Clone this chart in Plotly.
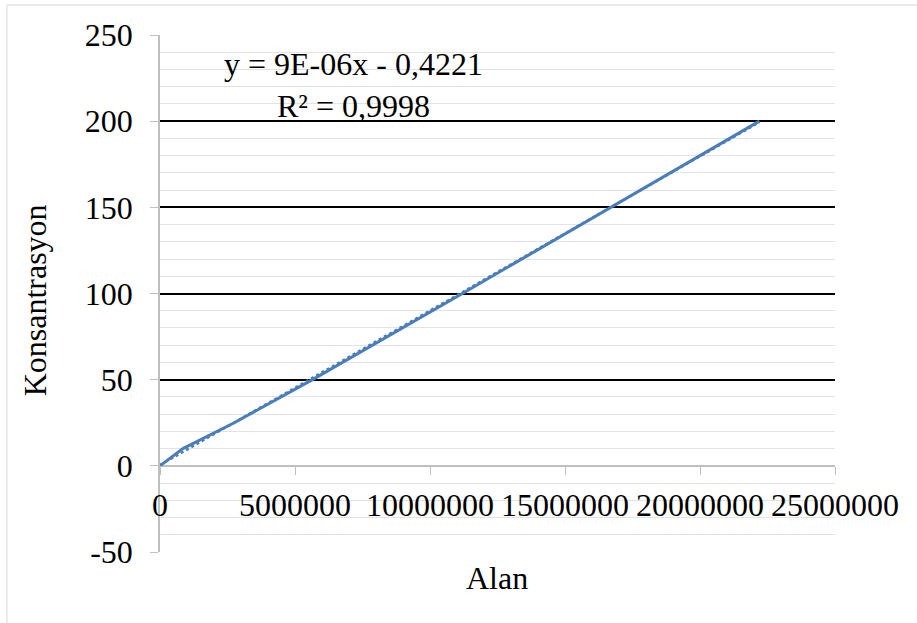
import numpy as np
import plotly.graph_objects as go

# Data
alan = [0, 850000, 2750000, 5650000, 11200000, 16700000, 22200000]
konsantrasyon = [0, 10, 25, 50, 100, 150, 200]

x_ticks = [0, 5000000, 10000000, 15000000, 20000000, 25000000]
x_ticktext = ["0", "5000000", "10000000", "15000000", "20000000", "25000000"]
y_ticks = [-50, 0, 50, 100, 150, 200, 250]
y_ticktext = ["-50", "0", "50", "100", "150", "200", "250"]

equation_text = "y = 9E-06x - 0,4221"
r2_text = "R² = 0,9998"

# Linear trendline (least squares, as the spreadsheet does)
slope, intercept = np.polyfit(alan, konsantrasyon, 1)
trend_x = [min(alan), max(alan)]
trend_y = [slope * v + intercept for v in trend_x]

FONT = "Liberation Serif"
BLUE = "#4A7EBB"
FS = 32

fig = go.Figure()
fig.add_trace(go.Scatter(x=trend_x, y=trend_y, mode="lines",
                         line=dict(color=BLUE, width=2.5, dash="dot"),
                         showlegend=False, hoverinfo="skip"))
fig.add_trace(go.Scatter(x=alan, y=konsantrasyon, mode="lines",
                         line=dict(color=BLUE, width=3),
                         showlegend=False))

fig.update_layout(
    width=917, height=623,
    margin=dict(l=160, r=82, t=35, b=71),
    paper_bgcolor="white", plot_bgcolor="white",
    font=dict(family=FONT, size=FS, color="black"),
    xaxis=dict(
        range=[0, 25000000], tickvals=x_ticks, ticktext=x_ticktext,
        showgrid=False, zeroline=False,
        showline=True, linecolor="#BFBFBF", linewidth=1,
        ticks="outside", ticklen=8, tickcolor="#BFBFBF",
        anchor="free", position=50 / 300,
        ticklabelstandoff=3,
        tickfont=dict(family=FONT, size=FS),
    ),
    yaxis=dict(
        range=[-50, 250], tickvals=y_ticks, ticktext=y_ticktext,
        showgrid=True, gridcolor="black", gridwidth=1.5,
        minor=dict(dtick=10, showgrid=True, gridcolor="#E3E3E3", gridwidth=1),
        zeroline=True, zerolinecolor="#BFBFBF", zerolinewidth=1.5,
        showline=True, linecolor="#BFBFBF", linewidth=1.5,
        ticks="outside", ticklen=8, tickcolor="#BFBFBF",
        ticklabelstandoff=11,
        tickfont=dict(family=FONT, size=FS),
    ),
    shapes=[dict(type="rect", xref="paper", yref="paper",
                 x0=-0.2267, x1=2, y0=-1, y1=1.058,
                 line=dict(color="#D9D9D9", width=1), layer="below")],
    annotations=[
        dict(text="Konsantrasyon", xref="paper", yref="paper",
             x=-0.185, y=0.487, textangle=-90, showarrow=False,
             font=dict(family=FONT, size=FS), xanchor="center", yanchor="middle"),
        dict(text="Alan", xref="paper", yref="paper",
             x=0.499, y=-0.05, showarrow=False,
             font=dict(family=FONT, size=FS), xanchor="center", yanchor="middle"),
        dict(text=equation_text + "<br>" + r2_text, xref="paper", yref="paper",
             x=0.287, y=0.903, showarrow=False, align="center",
             font=dict(family=FONT, size=FS), xanchor="center", yanchor="middle"),
    ],
)

fig.write_html("out.html")
